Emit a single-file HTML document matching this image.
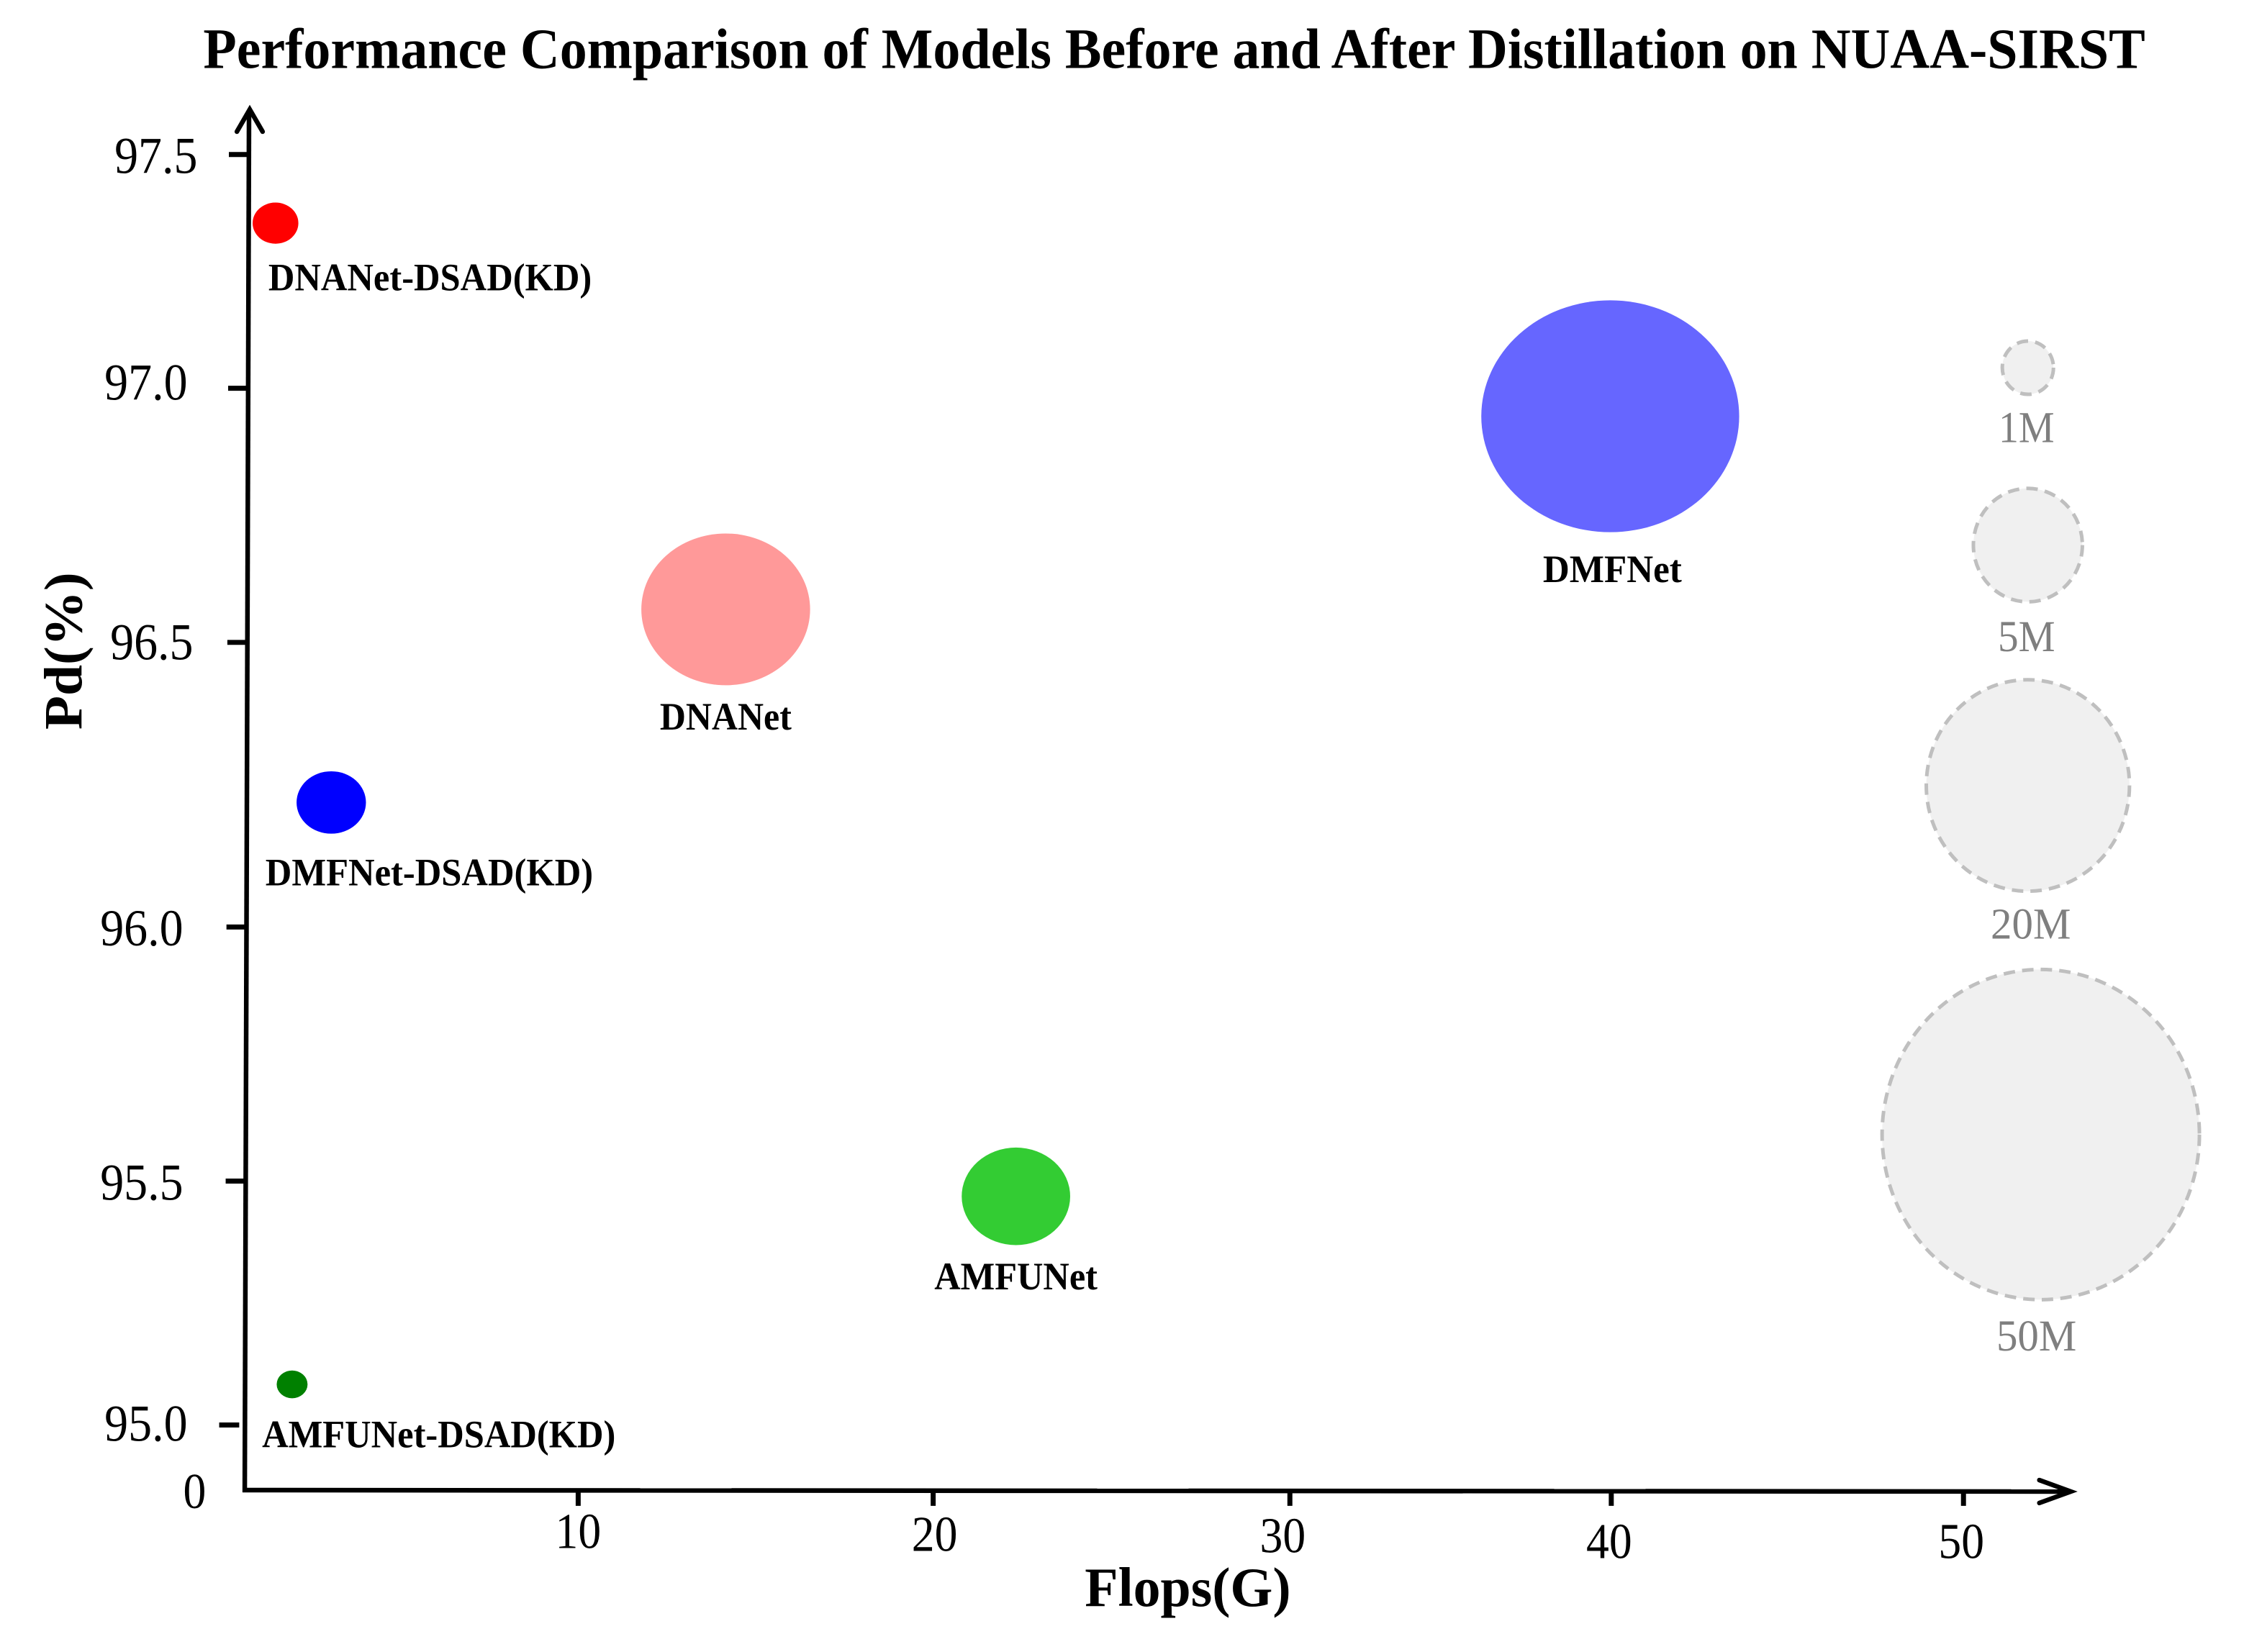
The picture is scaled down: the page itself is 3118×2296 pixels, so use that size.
<!DOCTYPE html>
<html lang="en">
<head>
<meta charset="utf-8">
<title>Performance Comparison of Models Before and After Distillation on NUAA-SIRST</title>
<style>
html,body{margin:0;padding:0;background:#fff;}
svg{display:block;}
text{font-family:"Liberation Serif","DejaVu Serif",serif;}
</style>
</head>
<body>
<svg id="chart" xmlns="http://www.w3.org/2000/svg" width="3118" height="2296" viewBox="0 0 3136 2309.3">
<rect x="0" y="0" width="3136" height="2310" fill="#ffffff"/>
<text x="1641" y="95" text-anchor="middle" font-size="80" font-weight="bold" textLength="2714" lengthAdjust="spacingAndGlyphs">Performance Comparison of Models Before and After Distillation on NUAA-SIRST</text>
<text x="1660" y="2245" text-anchor="middle" font-size="78" font-weight="bold" textLength="288" lengthAdjust="spacingAndGlyphs">Flops(G)</text>
<text transform="translate(114,910) rotate(-90)" text-anchor="middle" font-size="76" font-weight="bold" textLength="220" lengthAdjust="spacingAndGlyphs">Pd(%)</text>
<line x1="342" y1="2086" x2="348" y2="154" stroke="#000" stroke-width="6.5"/>
<line x1="339" y1="2083" x2="2892" y2="2085" stroke="#000" stroke-width="6.5"/>
<path d="M331 184 L349 153 L367 184" fill="none" stroke="#000" stroke-width="6.5" stroke-linecap="round"/>
<path d="M2850 2069 L2894 2085 L2850 2101" fill="none" stroke="#000" stroke-width="6.5" stroke-linecap="round"/>
<text x="272" y="2108" text-anchor="middle" font-size="70" textLength="32" lengthAdjust="spacingAndGlyphs">0</text>
<g id="ticks"></g>
<g id="bubbles"></g>
<g id="legend"></g>
</svg>
<script>
// Chart data
const modelNames = ["DNANet-DSAD(KD)", "DMFNet-DSAD(KD)", "AMFUNet-DSAD(KD)", "DNANet", "DMFNet", "AMFUNet"];
const flops = [1.26, 2.87, 1.74, 14.26, 39.8, 22.64];
const pd = [97.365, 96.225, 95.08, 96.605, 96.985, 95.45];
const params = [0.9, 2.07, 0.41, 12.25, 28.6, 5.06];
const bubbleColors = ["#ff0000", "#0000ff", "#008000", "#ff9999", "#6666ff", "#33cc33"];

// The hand-drawn axes have unevenly placed ticks, so tick locations are given in data units
const yTickValues = [97.5, 97.04, 96.54, 95.98, 95.48, 95.0];
const yTickLabels = ["97.5", "97.0", "96.5", "96.0", "95.5", "95.0"];
const xTickValues = [10, 20.25, 30.55, 39.83, 50];
const xTickLabels = ["10", "20", "30", "40", "50"];

const legendSizes = [1.3, 5.9, 20.5, 50];
const legendLabels = ["1M", "5M", "20M", "50M"];

// Layout (not data)
const labelDx = [216, 137, 205, 0, 3, 0];
const labelDy = [94, 116, 88, 168, 232, 130];
const labelWidth = [452, 458, 494, 184, 194, 228];
const yLabelEnd = [276, 262, 270, 256, 256, 262];
const yLabelDy = [26, 16, 24, 26, 26, 22];
const xLabelDx = [0, 2, -10, -3, -3];
const xLabelBase = [2164, 2168, 2170, 2178, 2178];
const legendCx = [2834, 2834, 2834, 2852];
const legendCy = [514, 762, 1098, 1586];
const legendLabelCx = [2832, 2832, 2838, 2846];
const legendLabelBase = [618, 910, 1312, 1888];
const legendLabelWidth = [78, 80, 112, 112];

// Axis functions
function xScale(v) { return 324 + 48.4 * v; }
function yScale(v) { return 1992 - (v - 95) * 710.4; }
function axisXAt(y) { return 342 + (2084 - y) * 6 / 1928; }
function bubbleRadius(p) { return 32 * Math.sqrt(p); }

const NS = "http://www.w3.org/2000/svg";
function make(tag, parent, attrs) {
  const el = document.createElementNS(NS, tag);
  for (const k in attrs) el.setAttribute(k, attrs[k]);
  parent.appendChild(el);
  return el;
}

const ticksG = document.getElementById("ticks");
yTickValues.forEach(function (v, i) {
  const y = yScale(v);
  const ax = axisXAt(y);
  const off = i === 5 ? 8 : 0;
  const t = make("line", ticksG, { x1: ax - 28 - off, y1: y, x2: ax - off, y2: y, stroke: "#000", "stroke-width": 7 });
  
  
  const l = make("text", ticksG, { x: yLabelEnd[i], y: y + yLabelDy[i], "text-anchor": "end", "font-size": 72, textLength: 116, lengthAdjust: "spacingAndGlyphs" });
  
  
  l.textContent = yTickLabels[i];
});
xTickValues.forEach(function (v, i) {
  const x = xScale(v);
  const t = make("line", ticksG, { x1: x, y1: 2084, x2: x, y2: 2105, stroke: "#000", "stroke-width": 7 });
  
  
  const l = make("text", ticksG, { x: x + xLabelDx[i], y: xLabelBase[i], "text-anchor": "middle", "font-size": 70, textLength: 64, lengthAdjust: "spacingAndGlyphs" });
  
  
  l.textContent = xTickLabels[i];
});

const bubblesG = document.getElementById("bubbles");
modelNames.forEach(function (name, i) {
  const cx = xScale(flops[i]);
  const cy = yScale(pd[i]);
  const r = bubbleRadius(params[i]);
  const b = make("ellipse", bubblesG, { cx: cx, cy: cy, rx: r * 1.053, ry: r * 0.947, fill: bubbleColors[i] });
  
  
  const l = make("text", bubblesG, { x: cx + labelDx[i], y: cy + labelDy[i], "text-anchor": "middle", "font-size": 54, "font-weight": "bold", textLength: labelWidth[i], lengthAdjust: "spacingAndGlyphs" });
  
  
  l.textContent = name;
});

const legendG = document.getElementById("legend");
legendSizes.forEach(function (s, i) {
  const r = bubbleRadius(s);
  const c = make("ellipse", legendG, { cx: legendCx[i], cy: legendCy[i], rx: r * 0.98, ry: r * 1.02, fill: "#f0f0f0", stroke: "#bfbfbf", "stroke-width": 5, "stroke-dasharray": "16 10" });
  
  
  const l = make("text", legendG, { x: legendLabelCx[i], y: legendLabelBase[i], "text-anchor": "middle", "font-size": 62, fill: "#7f7f7f", textLength: legendLabelWidth[i], lengthAdjust: "spacingAndGlyphs" });
  
  
  l.textContent = legendLabels[i];
});
</script>
</body>
</html>
